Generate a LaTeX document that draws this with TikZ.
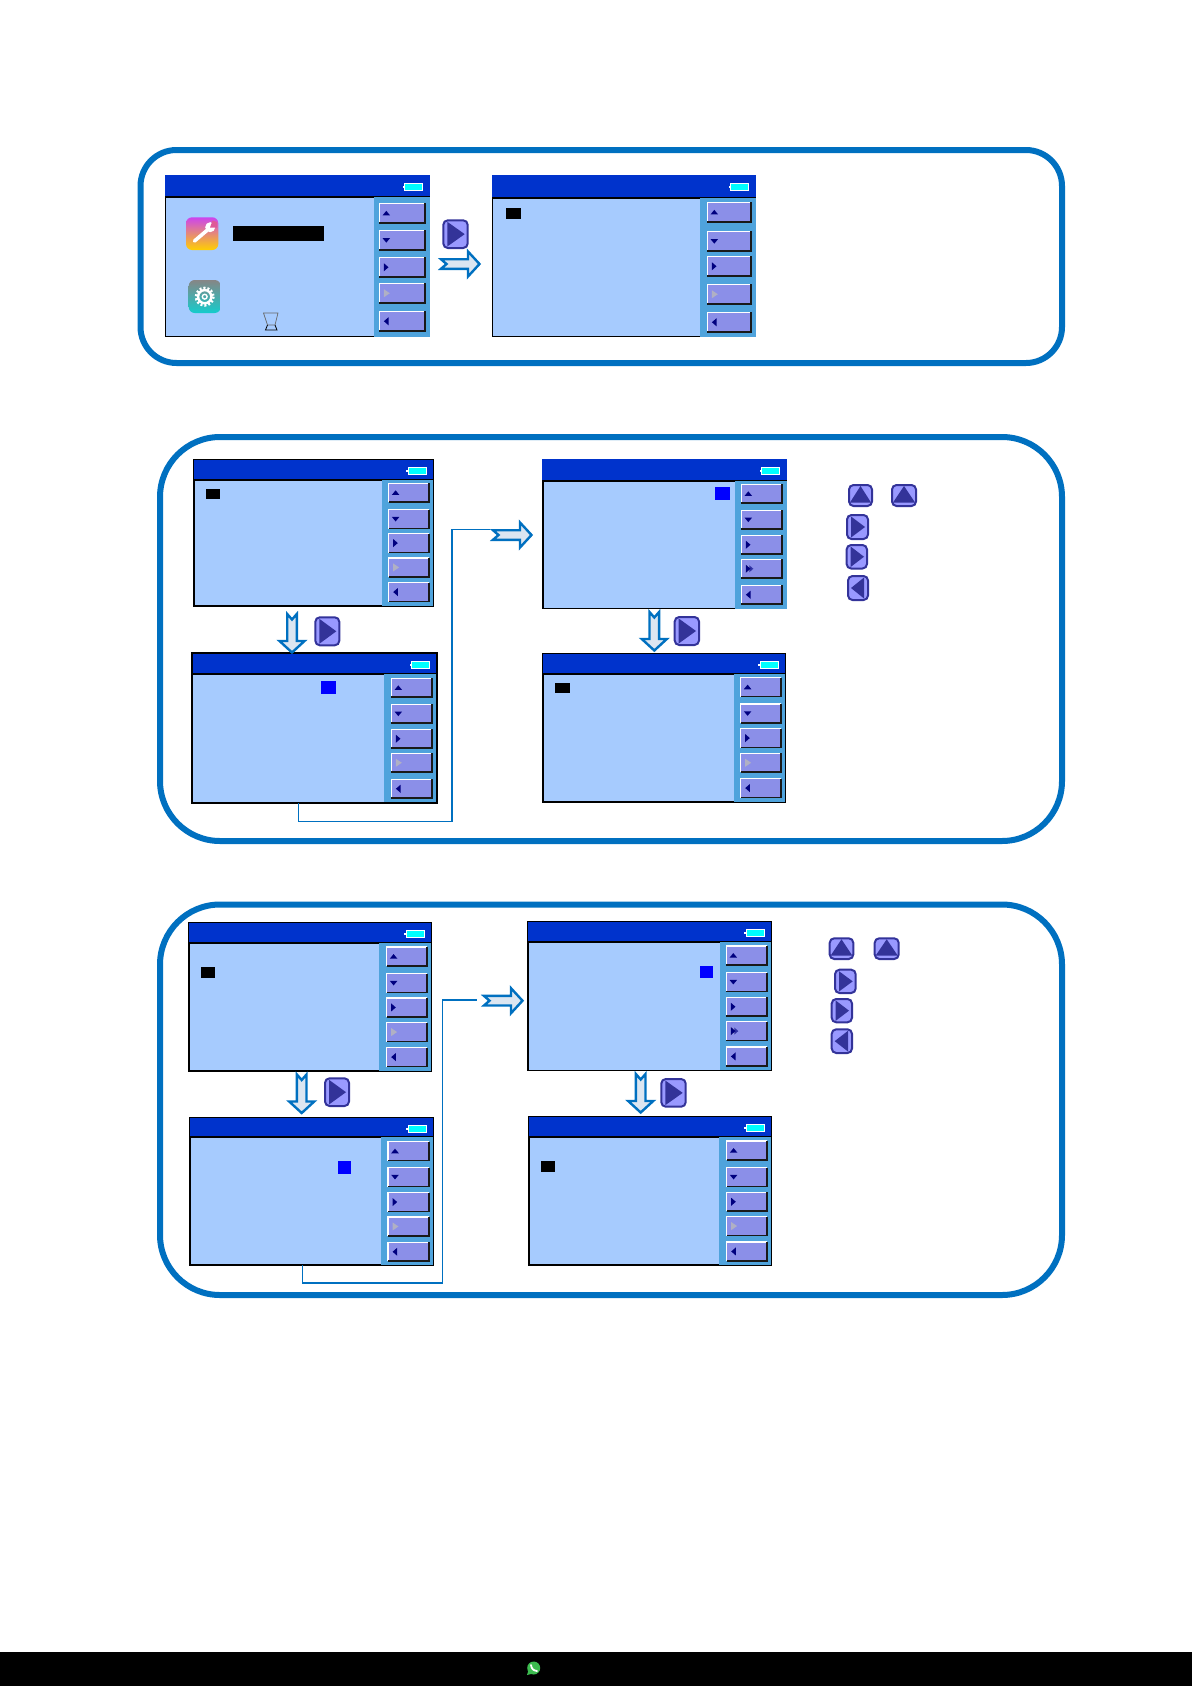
\documentclass[tikz,border=0pt]{standalone}
\usepackage{tikz}
\usetikzlibrary{fit, positioning, shadings}

\definecolor{bandblue}{HTML}{0070C0}
\definecolor{titleblue}{HTML}{0033CC}
\definecolor{screenblue}{HTML}{A6CBFE}
\definecolor{panelblue}{HTML}{4FA3DC}
\definecolor{btnblue}{HTML}{8B8FE8}
\definecolor{iconnavy}{HTML}{00007F}
\definecolor{icongrey}{HTML}{B0B0C4}
\definecolor{keyfill}{HTML}{9999FF}
\definecolor{keydark}{HTML}{333399}
\definecolor{arrowfill}{HTML}{DCE6F1}
\definecolor{battcyan}{HTML}{00FFFF}
\definecolor{wrenchtop}{HTML}{CC44EE}
\definecolor{wrenchmid}{HTML}{F07040}
\definecolor{wrenchlow}{HTML}{FFD000}
\definecolor{geartop}{HTML}{868686}
\definecolor{gearmid}{HTML}{4A6666}
\definecolor{gearlow}{HTML}{14CCCC}
\definecolor{wagreen}{HTML}{3CBB4F}

\def\btnh{19.5}

\newcommand{\hmiscreen}[9]{
  \node[screenbox, fit={(#2,#3) (#4,#5)}] (#1) {};
  \fill[titleblue] (#1.north west) rectangle (#1.east |- 0,#6);
  \draw[line width=1.8pt] (#2,#6) -- (#4,#6);
  \fill[panelblue] (#7,#6) rectangle (#4,#5);
  \draw[white, line width=.8pt, fill=battcyan] (#4-25.5,#3+8) rectangle (#4-7.5,#3+15.5);
  \fill[white] (#4-27.5,#3+10.5) rectangle (#4-25.5,#3+13);
  \foreach \y [count=\i] in {#9} {
    \node[btnbox, fit={(#8+.5,\y+.5) (#4-5,\y+\btnh-.5)}] (#1-\i) {};
    \draw[white, line width=1.4pt] (#1-\i.south west) -- (#1-\i.north west) -- (#1-\i.north east);
    \draw[black!90, line width=1.6pt] (#1-\i.south west) -- (#1-\i.south east) -- (#1-\i.north east);
  }
  \fill[iconnavy] ([shift={(3.2,2.2)}]#1-1.west) -- ([shift={(10.8,2.2)}]#1-1.west) -- ([shift={(7,-2.4)}]#1-1.west) -- cycle;
  \fill[iconnavy] ([shift={(3.2,-2.2)}]#1-2.west) -- ([shift={(10.8,-2.2)}]#1-2.west) -- ([shift={(7,2.4)}]#1-2.west) -- cycle;
  \fill[iconnavy] ([shift={(4.6,-4)}]#1-3.west) -- ([shift={(4.6,4)}]#1-3.west) -- ([shift={(9.2,0)}]#1-3.west) -- cycle;
  \fill[icongrey] ([shift={(4.6,-4)}]#1-4.west) -- ([shift={(4.6,4)}]#1-4.west) -- ([shift={(10.5,0)}]#1-4.west) -- cycle;
  \fill[iconnavy] ([shift={(9.2,-4)}]#1-5.west) -- ([shift={(9.2,4)}]#1-5.west) -- ([shift={(4.6,0)}]#1-5.west) -- cycle;
}
% screens whose panel keeps the black edge
\newcommand{\closeframe}[1]{
  \draw[line width=1.2pt] (#1.north west) rectangle (#1.south east);
}
\newcommand{\activefourth}[1]{
  \fill[iconnavy!65!btnblue] ([shift={(8,-3.5)}]#1-4.west) -- ([shift={(8,3.5)}]#1-4.west) -- ([shift={(12,0)}]#1-4.west) -- cycle;
  \fill[iconnavy] ([shift={(4.6,-4)}]#1-4.west) -- ([shift={(4.6,4)}]#1-4.west) -- ([shift={(9.2,0)}]#1-4.west) -- cycle;
}
\newcommand{\keyright}[5]{
  \node[keybox, fit={(#2,#3) (#4,#5)}] (#1) {};
  \fill[keydark] ([shift={(5,2.5)}]#1.north west) -- ([shift={(-4,0)}]#1.east) -- ([shift={(5,-2.5)}]#1.south west) -- cycle;
}
\newcommand{\keyleft}[5]{
  \node[keybox, fit={(#2,#3) (#4,#5)}] (#1) {};
  \fill[keydark] ([shift={(-5,2.5)}]#1.north east) -- ([shift={(4,0)}]#1.west) -- ([shift={(-5,-2.5)}]#1.south east) -- cycle;
}
\newcommand{\keyup}[5]{
  \node[keybox, fit={(#2,#3) (#4,#5)}] (#1) {};
  \fill[keydark] ([shift={(0,2)}]#1.north) -- ([shift={(2,-4.5)}]#1.south west) -- ([shift={(-2,-4.5)}]#1.south east) -- cycle;
}
\newcommand{\blockarrow}[4]{
  \coordinate (#1) at (#2,#3);
  \draw[blockline, shift={(#2,#3)}, rotate=#4] (0,-4.8) -- (27,-4.8) -- (27,-12.5) -- (38.5,0) -- (27,12.5) -- (27,4.8) -- (0,4.8) -- (5.5,0) -- cycle;
}

\begin{document}
\begin{tikzpicture}[x=1pt, y=-1pt, line join=miter,
  screenbox/.style = {rectangle, draw=black, fill=screenblue, line width=1.2pt, inner sep=-.6pt},
  btnbox/.style = {rectangle, fill=btnblue, inner sep=0pt},
  keybox/.style = {rectangle, draw=keydark, fill=keyfill, line width=2pt, rounded corners=4.5pt, inner sep=-1pt},
  bandbox/.style = {rectangle, draw=bandblue, line width=6pt, inner sep=0pt},
  blockline/.style = {draw=bandblue, fill=arrowfill, line width=2.4pt, miter limit=4},
  linkline/.style = {draw=bandblue, line width=1.2pt}]

  \useasboundingbox (0,0) rectangle (1192,1686);

  \node[bandbox, rounded corners=36pt, fit={(140.5,150) (1062,363)}] (band1) {};
  \node[bandbox, rounded corners=60pt, fit={(160,437) (1062,841)}] (band2) {};
  \node[bandbox, rounded corners=60pt, fit={(160,904.5) (1062,1295)}] (band3) {};

  % first band
  \def\btnh{20.5}
  \hmiscreen{s1a}{165}{175}{430}{337}{197}{374}{379}{203,230,257,283,311}
  \hmiscreen{s1b}{492}{175}{756}{337}{198}{700}{707}{202,231,256,284,312}
  \def\btnh{19.5}
  \fill (233,226) rectangle (324,241);
  \fill (506,208) rectangle (521,219);

  \node[rectangle, rounded corners=6pt, top color=wrenchtop, middle color=wrenchmid, bottom color=wrenchlow, inner sep=0pt, fit={(186,217.3) (218.3,250)}] (wrench) {};
  \draw[white, line width=3.6pt, line cap=round] (194.5,241) -- (208,229.5);
  \fill[white] (210.2,227.2) circle[radius=5];
  \fill[wrenchmid!50!wrenchtop] (210,227.5) -- (212.5,220.5) -- (217,222) -- (217,227.5) -- cycle;
  \node[rectangle, rounded corners=6pt, top color=geartop, middle color=gearmid, bottom color=gearlow, inner sep=0pt, fit={(188.7,280) (220.7,313)}] (gear) {};
  \draw[white, line width=2.8pt, dash pattern=on 2pt off 1.9pt] (204.7,296.7) circle[radius=8.6];
  \draw[white, line width=2.4pt] (204.7,296.7) circle[radius=6.6];
  \draw[white, line width=1.4pt] (204.7,296.7) circle[radius=2.4];

  \draw[black!60, line width=.7pt] (263.5,313) -- (278,313) -- (275,325) -- (267.5,325) -- cycle;
  \draw[line width=.8pt] (267.5,325) -- (265.5,330) -- (277,330) -- (275,325);

  \blockarrow{a1}{441}{264}{0}
  \keyright{k1}{442.3}{219.3}{468.7}{249}

  % second band
  \hmiscreen{s2a}{193.3}{459.3}{433.7}{606.3}{480}{382}{388.3}{483,509.3,533.3,557.7,582.3}
  \closeframe{s2a}
  \hmiscreen{s2b}{192}{653}{437}{803}{674}{384}{391}{678,704,729,753,779}
  \closeframe{s2b}
  \hmiscreen{s2c}{542.3}{459}{787}{609}{480.7}{735}{741}{484,510,535,559,585}
  \activefourth{s2c}
  \hmiscreen{s2d}{542.3}{653.3}{785.7}{802.3}{674}{734}{740.3}{677.3,703.7,728.3,753,778.3}
  \closeframe{s2d}
  \fill (206,489) rectangle (220,499);
  \fill[blue] (321,681) rectangle (336,694);
  \fill[blue] (715,487) rectangle (730,500);
  \fill (555,683) rectangle (570,693);

  \blockarrow{a2d}{292}{614}{-90}
  \blockarrow{a2e}{654.3}{612}{-90}
  \blockarrow{a2r}{493}{535}{0}
  \keyright{k2a}{314.3}{616.3}{340.3}{646.3}
  \keyright{k2b}{673.7}{616}{700}{646}
  \draw[linkline] ([xshift=-16.2pt]s2b.south) |- (452,821.7) |- ([shift={(-3.5,-5.7)}]a2r);

  \keyup{k2c}{848}{484}{873}{507}
  \keyup{k2d}{891}{484}{917}{507}
  \keyright{k2e}{846}{514}{869}{540}
  \keyright{k2f}{845.6}{544}{868}{569.5}
  \keyleft{k2g}{847}{575}{869}{601}

  % third band
  \hmiscreen{s3a}{188.3}{922.3}{431.7}{1071.3}{943.3}{379}{386.3}{946.7,973.3,997.7,1022.3,1047.3}
  \closeframe{s3a}
  \hmiscreen{s3b}{189.3}{1117.3}{433.7}{1265.3}{1137.3}{381}{387.7}{1141.3,1167.3,1192.3,1216.7,1242}
  \closeframe{s3b}
  \hmiscreen{s3c}{527.7}{921.3}{771.7}{1070.7}{942}{720}{726}{945.7,972.3,997,1021.3,1046.7}
  \closeframe{s3c}
  \activefourth{s3c}
  \hmiscreen{s3d}{528.3}{1116.3}{771.7}{1265.3}{1137.3}{719}{726.3}{1140.7,1167.3,1192,1216.3,1241.7}
  \closeframe{s3d}
  \fill (201,967) rectangle (215,978);
  \fill[blue] (338,1161) rectangle (351,1174);
  \fill[blue] (700,966) rectangle (713,978);
  \fill (541,1161) rectangle (555,1172);

  \blockarrow{a3d}{301.7}{1074.5}{-90}
  \blockarrow{a3e}{640.7}{1074}{-90}
  \blockarrow{a3r}{484}{1000.7}{0}
  \keyright{k3a}{324}{1077.3}{350}{1107}
  \keyright{k3b}{660.3}{1078}{686.7}{1107.7}
  \draw[linkline] ([xshift=-8.8pt]s3b.south) |- (442.3,1283) |- ([shift={(-7.5,-.7)}]a3r);

  \keyup{k3c}{828.7}{937.3}{854.3}{960}
  \keyup{k3d}{873.7}{937.3}{899.7}{960}
  \keyright{k3e}{834}{968.7}{856.7}{994}
  \keyright{k3f}{830.7}{998}{853}{1023.3}
  \keyleft{k3g}{830.7}{1028.3}{853}{1054}

  % bottom bar
  \fill[black] (0,1652) rectangle (1192,1686);
  \fill[wagreen] (533.7,1668) circle[radius=6.5];
  \fill[wagreen] (528.5,1670) -- (527,1675) -- (533,1673.5) -- cycle;
  \draw[white, line width=1.8pt, line cap=round] (531,1665) .. controls (531.5,1668.5) and (533,1670.5) .. (537,1671);
\end{tikzpicture}
\end{document}
